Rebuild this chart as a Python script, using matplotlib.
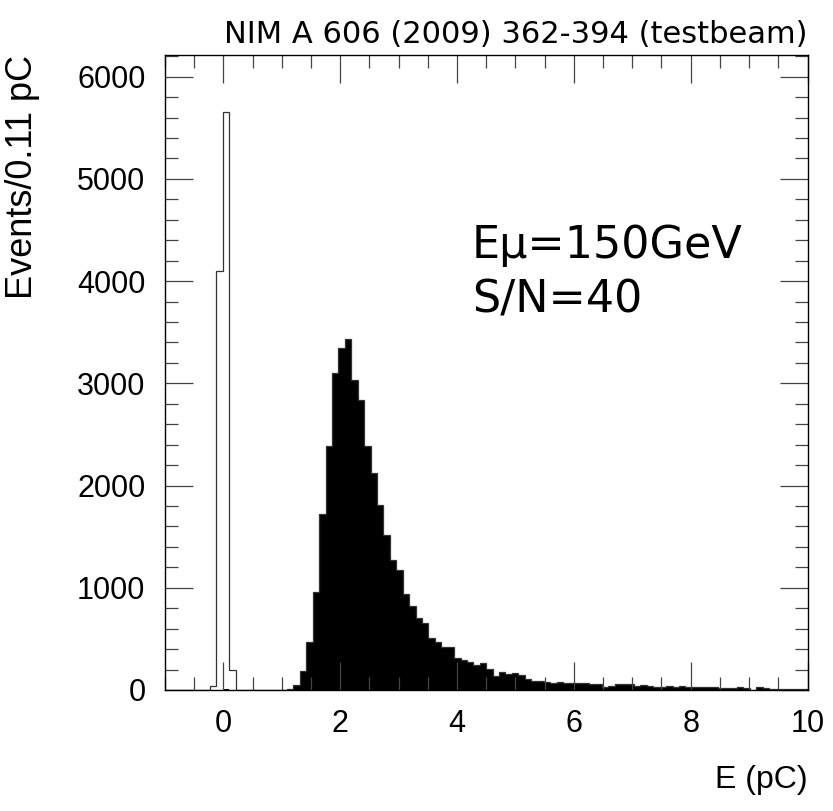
import numpy as np
import matplotlib
matplotlib.use("Agg")
import matplotlib.pyplot as plt
from matplotlib.ticker import MultipleLocator

# 100 bins of 0.11 pC from -1 to 10 pC
bin_edges = np.linspace(-1.0, 10.0, 101)

# pedestal (open histogram), bins 0..99
pedestal_counts = [
    0, 0, 0, 0, 0, 0, 0, 40, 4100, 5640,
    200, 0, 0, 0, 0, 0, 0, 0, 0, 0,
    0, 0, 0, 0, 0, 0, 0, 0, 0, 0,
    0, 0, 0, 0, 0, 0, 0, 0, 0, 0,
    0, 0, 0, 0, 0, 0, 0, 0, 0, 0,
    0, 0, 0, 0, 0, 0, 0, 0, 0, 0,
    0, 0, 0, 0, 0, 0, 0, 0, 0, 0,
    0, 0, 0, 0, 0, 0, 0, 0, 0, 0,
    0, 0, 0, 0, 0, 0, 0, 0, 0, 0,
    0, 0, 0, 0, 0, 0, 0, 0, 0, 0,
]

# muon signal (filled histogram), bins 0..99
signal_counts = [
    0, 0, 0, 0, 0, 0, 0, 0, 0, 10,
    0, 0, 0, 0, 0, 0, 0, 0, 3, 10,
    49, 186, 473, 955, 1724, 2389, 3105, 3350, 3432, 3036,
    2841, 2383, 2118, 1805, 1515, 1271, 1176, 935, 824, 707,
    651, 505, 466, 417, 417, 310, 290, 270, 245, 265,
    205, 140, 176, 156, 163, 143, 104, 91, 88, 81,
    65, 81, 72, 72, 65, 65, 59, 59, 33, 39,
    62, 62, 62, 36, 46, 39, 29, 29, 36, 26,
    36, 29, 26, 26, 26, 33, 20, 23, 23, 26,
    20, 3, 26, 16, 13, 13, 10, 10, 10, 13,
]

x_ticks = [0, 2, 4, 6, 8, 10]
y_ticks = [0, 1000, 2000, 3000, 4000, 5000, 6000]

title_text = "NIM A 606 (2009) 362-394 (testbeam)"
info_lines = ["E\u03bc=150GeV", "S/N=40"]

fig = plt.figure(figsize=(8.33, 8.11), dpi=100)
ax = fig.add_axes([0.198, 0.1492, 0.7714, 0.7828])

total = np.array(pedestal_counts) + np.array(signal_counts)
ax.stairs(signal_counts, bin_edges, fill=True, color="black")
ax.stairs(total, bin_edges, color="#333333", lw=0.9)

ax.set_xlim(-1, 10)
ax.set_ylim(0, 6210)

ax.set_xticks(x_ticks)
ax.set_yticks(y_ticks)
ax.xaxis.set_minor_locator(MultipleLocator(0.5))
ax.yaxis.set_minor_locator(MultipleLocator(200))
ax.tick_params(which="both", direction="in", top=True, right=True,
               color="#444444", width=0.9)
ax.tick_params(which="major", length=20, labelsize=22, pad=14)
ax.tick_params(which="minor", length=9.5)
for lab in ax.get_xticklabels() + ax.get_yticklabels():
    lab.set_fontfamily("Liberation Sans")
for s in ax.spines.values():
    s.set_linewidth(1.0)

fig.text(0.969, 0.958, title_text, ha="right", va="center",
         fontsize=22, family="DejaVu Sans")
ax.text(0.478, 0.70, info_lines[0], transform=ax.transAxes,
        fontsize=32, family="DejaVu Sans", va="center", ha="left")
ax.text(0.478, 0.615, info_lines[1], transform=ax.transAxes,
        fontsize=32, family="DejaVu Sans", va="center", ha="left")

fig.text(0.027, 0.932, "Events/0.11 pC", rotation=90, ha="center", va="top",
         fontsize=26, family="Liberation Sans")
fig.text(0.969, 0.038, "E (pC)", ha="right", va="center",
         fontsize=23, family="Liberation Sans")

fig.savefig("out.png", dpi=100)
